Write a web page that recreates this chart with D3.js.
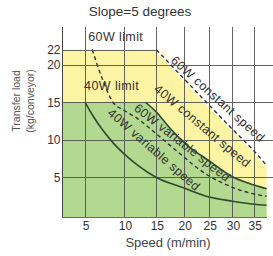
<!DOCTYPE html>
<html><head><meta charset="utf-8">
<script src="https://cdn.jsdelivr.net/npm/d3@7"></script>
<style>
body{margin:0;background:#fff}
svg{display:block}
text{font-family:"Liberation Sans",Arial,sans-serif;fill:#333}
</style>
</head><body><svg id="c" width="273" height="256"></svg>
<script>
// ---- data ----
const title = "Slope=5 degrees";
const xLabel = "Speed (m/min)";
const yLabel = ["Transfer load", "(kg/conveyor)"];
const xTicks = [5, 10, 15, 20, 25, 30, 35];
const yTicks = [5, 10, 15, 20, 22];
const yGrid = [5, 10, 15, 20];
const limit60 = 22;
const limit40 = 15;
const const60 = [[15,22],[20,18.1],[25,14.6],[30,11.4],[35,8.5],[38,6.6]];
const const40 = [[13.2,15],[15,13.7],[17.2,11.7],[20.7,9.2],[25,7.2],[30,5.1],[35,4.0],[38,3.5]];
const var60 = [[5.8,22],[7,18.2],[8.4,15],[10,13.9],[12,12.8],[15,10.8],[17.5,9.2],[20,7.7],[22.5,6.3],[25,5.2],[30,3.7],[35,2.8],[38,2.5]];
const var40 = [[5,15],[6,13],[7,11.4],[8,10.1],[9,9.0],[10,8.1],[12,6.6],[15,5.0],[20,3.6],[25,2.4],[30,1.85],[35,1.45],[38,1.3]];
const labels = [
  {t:"60W limit", x:5.35, y:23.1, a:0},
  {t:"40W limit", x:4.9, y:16.6, a:0},
  {t:"60W constant speed", x:17.4, y:20.4, a:42},
  {t:"40W constant speed", x:14.5, y:16.6, a:40},
  {t:"60W variable speed", x:11.3, y:14.0, a:38},
  {t:"40W variable speed", x:7.6, y:13.4, a:41}
];

// ---- scales ----
const xDom = [2.75, 38.1], yDom = [-0.25, 25];
const x = d3.scalePow().exponent(0.6).domain(xDom).range([62, 267]);
const y = d3.scaleLinear().domain(yDom).range([217, 27]);
const svg = d3.select("#c");

const line = d3.line().x(d=>x(d[0])).y(d=>y(d[1])).curve(d3.curveMonotoneX);
const area = d3.area().x(d=>x(d[0])).y0(y(yDom[0])).y1(d=>y(d[1])).curve(d3.curveMonotoneX);

// fills
const yellowPts = [[xDom[0], limit60]].concat(const60);
svg.append("path").attr("d", area(yellowPts)).attr("fill", "#fbf4a2");
const greenPts = [[xDom[0], limit40]].concat(const40);
svg.append("path").attr("d", area(greenPts)).attr("fill", "#b3d88f");
// thin white gap between yellow edge and the 60W constant-speed line
svg.append("path").attr("d", line(const60)).attr("fill","none").attr("stroke","#fff").attr("stroke-width",3.5);

// grid
const g = svg.append("g").attr("stroke", "#4a4a4a").attr("stroke-width", 1).attr("opacity", 0.85);
g.selectAll(".v").data(xTicks).join("line")
  .attr("x1", d=>Math.round(x(d))+0.5).attr("x2", d=>Math.round(x(d))+0.5)
  .attr("y1", y(yDom[1])).attr("y2", y(yDom[0])+1);
g.selectAll(".h").data(yGrid).join("line")
  .attr("x1", x(xDom[0])).attr("x2", 273)
  .attr("y1", d=>Math.round(y(d))+0.5).attr("y2", d=>Math.round(y(d))+0.5);
g.append("line").attr("x1", x(xDom[0])).attr("x2", x(15))
  .attr("y1", Math.round(y(limit60))+0.5).attr("y2", Math.round(y(limit60))+0.5);
svg.append("line").attr("x1", x(xDom[0])+0.5).attr("x2", x(xDom[0])+0.5)
  .attr("y1", y(yDom[1])).attr("y2", y(yDom[0])+1).attr("stroke", "#444");
svg.append("line").attr("x1", x(xDom[0])).attr("x2", x(xDom[1]))
  .attr("y1", y(yDom[0])+0.5).attr("y2", y(yDom[0])+0.5).attr("stroke", "#5a7a4a");

// curves
const curves = {const60, const40, var60, var40};
const styles = {
  const60:{c:"#333", w:1.4, d:"4,3"},
  const40:{c:"#2f4a2f", w:1.6, d:null},
  var60:{c:"#333", w:1.4, d:"4,3"},
  var40:{c:"#2f4a2f", w:1.6, d:null}
};
Object.keys(curves).forEach(k=>{
  svg.append("path").attr("d", line(curves[k])).attr("fill","none")
    .attr("stroke", styles[k].c).attr("stroke-width", styles[k].w)
    .attr("stroke-dasharray", styles[k].d);
});

// tick labels
svg.selectAll(".xt").data(xTicks).join("text")
  .attr("x", d=>x(d)+1).attr("y", 230).attr("text-anchor","middle")
  .attr("font-size", 12).text(d=>d);
svg.selectAll(".yt").data(yTicks).join("text")
  .attr("x", x(xDom[0])-1.5).attr("y", d=>y(d)+4.3).attr("text-anchor","end")
  .attr("font-size", 12).text(d=>d);

// titles
svg.append("text").attr("x", 140).attr("y", 16).attr("text-anchor","middle")
  .attr("font-size", 13.5).text(title);
svg.append("text").attr("x", 168).attr("y", 247).attr("text-anchor","middle")
  .attr("font-size", 13).style("fill","#444").text(xLabel);
svg.append("text").attr("transform","translate(20,101) rotate(-90)").attr("text-anchor","middle")
  .attr("font-size", 10.5).style("fill","#555").text(yLabel[0]);
svg.append("text").attr("transform","translate(34,101) rotate(-90)").attr("text-anchor","middle")
  .attr("font-size", 10.5).style("fill","#555").text(yLabel[1]);

// curve labels
svg.selectAll(".cl").data(labels).join("text")
  .attr("transform", d=>`translate(${x(d.x)},${y(d.y)}) rotate(${d.a})`)
  .attr("font-size", 12.5).style("letter-spacing","0.4px").text(d=>d.t);
</script>
</body></html>
